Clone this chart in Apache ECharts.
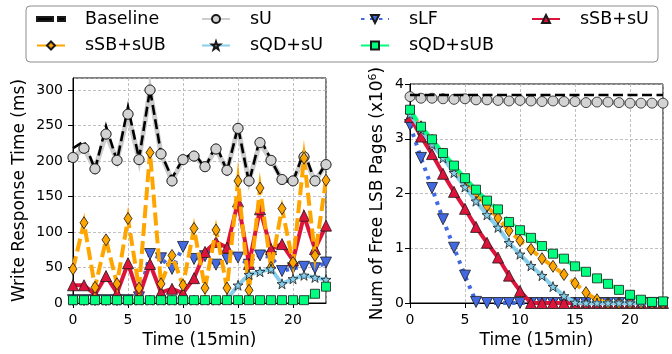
<!DOCTYPE html>
<html><head><meta charset="utf-8">
<script src="https://cdn.jsdelivr.net/npm/echarts@6/dist/echarts.min.js"></script>
<style>html,body{margin:0;padding:0;background:#fff}#c{width:672px;height:354px}</style>
</head><body><div id="c"></div>
<script>
const xs = [0,1,2,3,4,5,6,7,8,9,10,11,12,13,14,15,16,17,18,19,20,21,22,23];
const xTicks = [0,5,10,15,20];
const leftYTicks = [0,50,100,150,200,250,300];
const rightYTicks = [0,1,2,3,4];
const seriesNames = ['Baseline','sU','sLF','sSB+sU','sSB+sUB','sQD+sU','sQD+sUB'];

// Left: write response time (ms)
const lBaseline = [218,228,188,249,200,276,203,301,211,176,203,212,190,223,186,248,170,232,202,172,171,214,171,197];
const lSU       = [205,218,189,238,201,266,202,300,210,172,202,207,192,217,187,246,172,226,201,174,172,206,172,195];
const lSLF      = [4,4,4,4,4,4,8,69,63,48,79,62,66,54,62,64,54,67,65,45,49,51,49,57];
const lSSBsU    = [25,25,12,38,14,56,9,55,15,20,14,35,72,86,78,143,55,132,76,83,60,123,76,109];
const lSSBsUB   = [48,113,22,89,27,119,21,212,27,67,25,105,21,103,21,172,18,162,50,133,57,204,67,173];
const lSQDsU    = [4,4,4,4,4,4,4,4,4,4,4,4,4,4,5,25,40,44,48,27,34,39,36,33];
const lSQDsUB   = [4,4,4,4,4,4,4,4,4,4,4,4,4,4,4,4,4,4,4,4,4,4,13,23];

// Right: free LSB pages (x10^6)
const rBaseline = [3.8,3.8,3.8,3.8,3.8,3.8,3.8,3.8,3.8,3.8,3.8,3.8,3.8,3.8,3.8,3.8,3.8,3.8,3.8,3.8,3.8,3.8,3.8,3.8];
const rSU       = [3.77,3.74,3.74,3.73,3.72,3.73,3.71,3.71,3.70,3.69,3.70,3.69,3.68,3.69,3.68,3.68,3.66,3.67,3.67,3.66,3.65,3.65,3.65,3.65];
const rSLF      = [3.25,2.65,2.10,1.53,1.01,0.50,0.02,0,0,0,0,0,0,0,0,0,0,0,0,0,0,0,0,0];
const rSSBsU    = [3.40,3.04,2.72,2.36,2.03,1.72,1.39,1.10,0.83,0.50,0.22,0,0,0,0,0,0,0,0,0,0,0,0,0];
const rSSBsUB   = [3.50,3.22,2.97,2.72,2.47,2.23,2.00,1.77,1.55,1.32,1.14,0.98,0.81,0.67,0.52,0.36,0.19,0.06,0,0,0,0,0,0];
const rSQDsU    = [3.45,3.17,2.90,2.65,2.38,2.12,1.86,1.61,1.38,1.10,0.89,0.68,0.50,0.30,0.13,0.01,0,0,0,0,0,0,0,0];
const rSQDsUB   = [3.53,3.22,2.99,2.74,2.51,2.28,2.07,1.87,1.71,1.48,1.33,1.19,1.04,0.90,0.81,0.67,0.57,0.45,0.35,0.24,0.15,0.06,0.02,0.03];

const FONT = 'DejaVu Sans';
const STAR = 'path://M50,0 L61.8,35.5 L99,35.5 L69,57.5 L80.5,93 L50,71 L19.5,93 L31,57.5 L1,35.5 L38.2,35.5 Z';
const styles = {
  'Baseline': {color:'#000000', line:{color:'#000', width:2.6, type:[10,4.5]}, symbol:'none', size:0},
  'sU':       {color:'#d3d3d3', line:{color:'#cdcdcd', width:5, type:'solid'}, symbol:'circle', size:10},
  'sLF':      {color:'#4169e1', line:{color:'#4169e1', width:4, type:[3.5,5.5]}, symbol:'triangle', size:11, rotate:180},
  'sSB+sU':   {color:'#dc143c', line:{color:'#dc143c', width:4, type:'solid'}, symbol:'triangle', size:11},
  'sSB+sUB':  {color:'#ffa500', line:{color:'#ffa500', width:4, type:[13,5]}, symbol:'diamond', size:[8,12]},
  'sQD+sU':   {color:'#87ceeb', line:{color:'#87ceeb', width:4, type:'solid'}, symbol:STAR, size:10},
  'sQD+sUB':  {color:'#00ff7f', line:{color:'#00ff7f', width:4, type:[13,5]}, symbol:'rect', size:9}
};
// 'sU*' = sU markers redrawn above the baseline dashes
const drawOrders = [
  ['sU','Baseline','sU*','sLF','sSB+sU','sSB+sUB','sQD+sU','sQD+sUB'],
  ['sU','Baseline','sLF','sSB+sU','sSB+sUB','sQD+sU','sQD+sUB']
];
const leftData = {'Baseline':lBaseline,'sU':lSU,'sLF':lSLF,'sSB+sU':lSSBsU,'sSB+sUB':lSSBsUB,'sQD+sU':lSQDsU,'sQD+sUB':lSQDsUB};
const rightData = {'Baseline':rBaseline,'sU':rSU,'sLF':rSLF,'sSB+sU':rSSBsU,'sSB+sUB':rSSBsUB,'sQD+sU':rSQDsU,'sQD+sUB':rSQDsUB};

function pairs(ys){ return xs.map((x,i)=>[x, ys[i]]); }

const series = [];
[leftData, rightData].forEach((d, gi) => {
  drawOrders[gi].forEach((key, k) => {
    const markersOnly = key.endsWith('*');
    const name = markersOnly ? key.slice(0,-1) : key;
    const s = styles[name];
    series.push({
      name, type:'line', xAxisIndex:gi, yAxisIndex:gi,
      data: pairs(d[name]),
      symbol: s.symbol, symbolSize: s.size, symbolRotate: s.rotate || 0,
      showSymbol: s.symbol !== 'none', showAllSymbol:true,
      lineStyle: Object.assign({cap:'butt', join:'miter'}, s.line, markersOnly ? {opacity:0} : {}),
      itemStyle: {color: s.color, borderColor:'#1a1a1a', borderWidth:0.8},
      z: 2 + k, animation:false, clip:true, silent:true
    });
  });
});

const legendPos = {
  'Baseline':[36,20], 'sU':[201,20], 'sLF':[360,20], 'sSB+sU':[531,20],
  'sSB+sUB':[36,46.5], 'sQD+sU':[201,46.5], 'sQD+sUB':[360,46.5]
};
const legends = seriesNames.map(n => ({
  data:[ n === 'Baseline'
    ? {name:n, icon:'path://M0,3H16V7H0Z M21,3H28V7H21Z', itemStyle:{color:'#000'}}
    : n ],
  left: legendPos[n][0], top: legendPos[n][1]-10,
  itemWidth:28, itemHeight:10, selectedMode:false, padding:0,
  textStyle:{fontFamily:FONT, fontSize:17.5, color:'#000', padding:[0,0,0,15]}
}));

function xAxisCfg(gi){
  return {
    type:'value', gridIndex:gi, min:0, max:23, interval:5,
    name:'Time (15min)', nameLocation:'middle', nameGap:29,
    nameTextStyle:{fontFamily:FONT, fontSize:17, color:'#000'},
    axisLine:{lineStyle:{color:'#000', width:1}},
    axisTick:{show:true, length:5, lineStyle:{color:'#000'}},
    axisLabel:{fontFamily:FONT, fontSize:14, color:'#000', margin:10, showMaxLabel:false,
      formatter: v => xTicks.indexOf(v) >= 0 ? String(v) : ''},
    splitLine:{show:true, lineStyle:{color:'#b0b0b0', width:0.8, type:[3,2]}}
  };
}

const option = {
  backgroundColor:'#fff',
  animation:false,
  grid:[
    {left:73, top:78, width:253, height:226, show:true, borderColor:'#000', borderWidth:1, backgroundColor:'transparent', containLabel:false},
    {left:410, top:84, width:253, height:220, show:true, borderColor:'#000', borderWidth:1, backgroundColor:'transparent', containLabel:false}
  ],
  xAxis:[xAxisCfg(0), xAxisCfg(1)],
  yAxis:[
    {type:'value', gridIndex:0, min:0, max:317, interval:50,
     name:'Write Response Time (ms)', nameLocation:'middle', nameGap:45,
     nameTextStyle:{fontFamily:FONT, fontSize:17, color:'#000'},
     axisLine:{show:true, lineStyle:{color:'#000'}},
     axisTick:{show:true, length:5, lineStyle:{color:'#000'}},
     axisLabel:{fontFamily:FONT, fontSize:14, color:'#000', margin:10, showMaxLabel:false,
       formatter: v => leftYTicks.indexOf(v) >= 0 ? String(v) : ''},
     splitLine:{show:true, lineStyle:{color:'#b0b0b0', width:0.8, type:[3,2]}}},
    {type:'value', gridIndex:1, min:0, max:4, interval:1,
     name:'Num of Free LSB Pages (x10{sup|6})', nameLocation:'middle', nameGap:23,
     nameTextStyle:{fontFamily:FONT, fontSize:17, color:'#000',
       rich:{sup:{fontFamily:FONT, fontSize:11, color:'#000', verticalAlign:'top', padding:[0,0,8,0]}}},
     axisLine:{show:true, lineStyle:{color:'#000'}},
     axisTick:{show:true, length:5, lineStyle:{color:'#000'}},
     axisLabel:{fontFamily:FONT, fontSize:14, color:'#000', margin:6,
       formatter: v => rightYTicks.indexOf(v) >= 0 ? String(v) : ''},
     splitLine:{show:true, lineStyle:{color:'#b0b0b0', width:0.8, type:[3,2]}}}
  ],
  legend: legends,
  graphic:[{type:'rect', shape:{x:26, y:6, width:632, height:56, r:4},
    style:{fill:'#fff', stroke:'#8c8c8c', lineWidth:1}, z:-1, silent:true}],
  series
};
const chart = echarts.init(document.getElementById('c'), null, {renderer:'canvas'});
chart.setOption(option);
</script></body></html>
